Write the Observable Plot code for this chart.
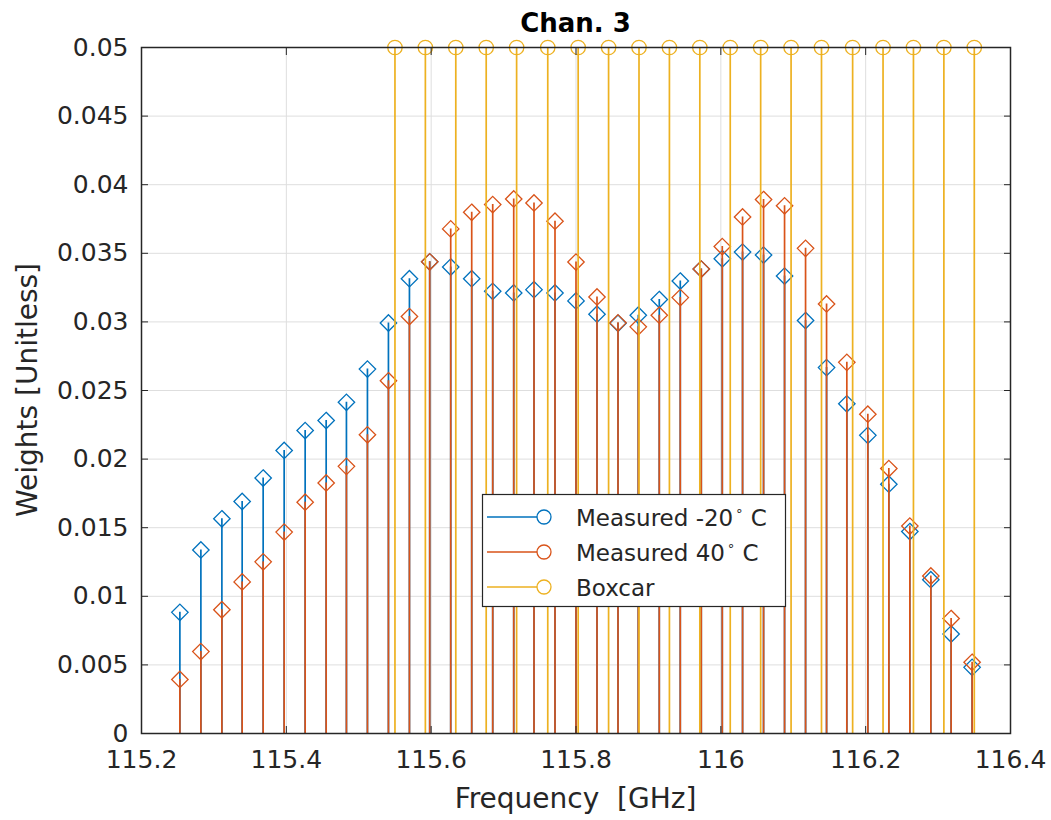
<!DOCTYPE html>
<html>
<head>
<meta charset="utf-8">
<script src="https://cdn.jsdelivr.net/npm/d3@7"></script>
<script src="https://cdn.jsdelivr.net/npm/@observablehq/plot@0.6"></script>
<style>
html, body { margin: 0; padding: 0; background: #fff; }
#chart { position: relative; width: 1051px; height: 820px; }
</style>
</head>
<body>
<div id="chart"></div>
<script>
// ---- data ----
const measFreq = [115.253, 115.282, 115.311, 115.339, 115.368, 115.397, 115.426, 115.455, 115.483, 115.512,
                  115.541, 115.570, 115.598, 115.627, 115.656, 115.685, 115.714, 115.742, 115.771, 115.800,
                  115.829, 115.858, 115.886, 115.915, 115.944, 115.973, 116.002, 116.030, 116.059, 116.088,
                  116.117, 116.146, 116.174, 116.203, 116.232, 116.261, 116.290, 116.318, 116.347];
const weightsMinus20 = [0.00883, 0.01338, 0.01565, 0.01691, 0.01862, 0.02063, 0.02208, 0.02281, 0.02414, 0.02656,
                        0.02992, 0.03315, 0.03438, 0.03400, 0.03315, 0.03223, 0.03211, 0.03235, 0.03211, 0.03153,
                        0.03056, 0.02990, 0.03049, 0.03163, 0.03298, 0.03385, 0.03460, 0.03509, 0.03487, 0.03334,
                        0.03010, 0.02667, 0.02403, 0.02173, 0.01817, 0.01472, 0.01121, 0.00725, 0.00482];
const weightsPlus40 = [0.00394, 0.00597, 0.00902, 0.01105, 0.01251, 0.01468, 0.01686, 0.01826, 0.01947, 0.02177,
                       0.02571, 0.03039, 0.03438, 0.03678, 0.03799, 0.03855, 0.03896, 0.03867, 0.03734, 0.03436,
                       0.03182, 0.02993, 0.02964, 0.03049, 0.03177, 0.03385, 0.03549, 0.03765, 0.03892, 0.03846,
                       0.03536, 0.03131, 0.02705, 0.02327, 0.01931, 0.01512, 0.01148, 0.00838, 0.00519];
const boxFreq = [115.550, 115.592, 115.634, 115.676, 115.718, 115.761, 115.803, 115.845, 115.887, 115.929,
                 115.971, 116.013, 116.055, 116.097, 116.139, 116.182, 116.224, 116.266, 116.308, 116.350];
const boxWeight = [0.05, 0.05, 0.05, 0.05, 0.05, 0.05, 0.05, 0.05, 0.05, 0.05,
                   0.05, 0.05, 0.05, 0.05, 0.05, 0.05, 0.05, 0.05, 0.05, 0.05];
const xTicks = [115.2, 115.4, 115.6, 115.8, 116, 116.2, 116.4];
const yTicks = [0, 0.005, 0.01, 0.015, 0.02, 0.025, 0.03, 0.035, 0.04, 0.045, 0.05];
const seriesLabels = ["Measured -20° C", "Measured 40° C", "Boxcar"];
const seriesColors = ["#0072BD", "#D95319", "#EDB120"];
const titleText = "Chan. 3";
const xLabelText = "Frequency  [GHz]";
const yLabelText = "Weights [Unitless]";

// ---- tables ----
const coldRows = measFreq.map((f, i) => ({f, w: weightsMinus20[i]}));
const warmRows = measFreq.map((f, i) => ({f, w: weightsPlus40[i]}));
const boxRows = boxFreq.map((f, i) => ({f, w: boxWeight[i]}));

const fmt = d => String(+(+d).toFixed(4));
const ink = "#262626";

function stem(rows, color, symbol, r) {
  return [
    Plot.ruleX(rows, {x: "f", y1: 0, y2: "w", stroke: color, strokeWidth: 1.7}),
    Plot.dot(rows, {x: "f", y: "w", symbol, r, stroke: color, strokeWidth: 1.3, fill: "none"})
  ];
}

const plot = Plot.plot({
  width: 1051,
  height: 820,
  marginTop: 47,
  marginRight: 41,
  marginBottom: 87,
  marginLeft: 141,
  style: {fontFamily: "DejaVu Sans", fontSize: "25px", color: ink, background: "#fff"},
  x: {domain: [115.2, 116.4], label: null},
  y: {domain: [0, 0.05], label: null},
  marks: [
    Plot.gridX(xTicks, {stroke: "#dedede", strokeOpacity: 1, strokeWidth: 1}),
    Plot.gridY(yTicks, {stroke: "#dedede", strokeOpacity: 1, strokeWidth: 1}),
    ...stem(coldRows, seriesColors[0], "diamond2", 7.4),
    ...stem(warmRows, seriesColors[1], "diamond2", 7.4),
    ...stem(boxRows, seriesColors[2], "circle", 7.2),
    Plot.axisX(xTicks, {anchor: "bottom", tickSize: 0, tickPadding: 17, tickFormat: fmt, label: null, fill: ink}),
    Plot.axisX(xTicks, {anchor: "bottom", tickSize: -7, tickFormat: () => "", label: null, stroke: ink}),
    Plot.axisX(xTicks, {anchor: "top", tickSize: -7, tickFormat: () => "", label: null, stroke: ink}),
    Plot.axisY(yTicks, {anchor: "left", tickSize: 0, tickPadding: 13, tickFormat: fmt, label: null, fill: ink}),
    Plot.axisY(yTicks, {anchor: "left", tickSize: -7, tickFormat: () => "", label: null, stroke: ink}),
    Plot.axisY(yTicks, {anchor: "right", tickSize: -7, tickFormat: () => "", label: null, stroke: ink}),
    Plot.frame({stroke: ink, strokeWidth: 1.5})
  ]
});

document.getElementById("chart").appendChild(plot);

// ---- title, axis labels, legend ----
const svg = d3.select(plot);
svg.append("text")
  .attr("x", 575.5).attr("y", 32)
  .attr("text-anchor", "middle")
  .attr("font-family", "DejaVu Sans").attr("font-weight", "bold").attr("font-size", 26)
  .attr("fill", "#000")
  .text(titleText);
svg.append("text")
  .attr("x", 575.5).attr("y", 808)
  .attr("text-anchor", "middle")
  .attr("font-family", "DejaVu Sans").attr("font-size", 28).attr("fill", ink)
  .text(xLabelText);
svg.append("text")
  .attr("transform", "translate(37,390) rotate(-90)")
  .attr("text-anchor", "middle")
  .attr("font-family", "DejaVu Sans").attr("font-size", 28).attr("fill", ink)
  .text(yLabelText);

const lg = svg.append("g")
  .attr("font-family", "DejaVu Sans").attr("font-size", 23).attr("fill", ink)
  .attr("text-anchor", "start");
lg.append("rect").attr("x", 482.5).attr("y", 494.5).attr("width", 303).attr("height", 112)
  .attr("fill", "#fff").attr("stroke", ink).attr("stroke-width", 1.2);
seriesLabels.forEach((label, i) => {
  const cy = 517 + i * 35;
  lg.append("line").attr("x1", 487).attr("x2", 544).attr("y1", cy).attr("y2", cy)
    .attr("stroke", seriesColors[i]).attr("stroke-width", 1.7);
  lg.append("circle").attr("cx", 544).attr("cy", cy).attr("r", 7)
    .attr("fill", "#fff").attr("stroke", seriesColors[i]).attr("stroke-width", 1.3);
  const t = lg.append("text").attr("x", 576).attr("y", cy + 9).attr("text-anchor", "start");
  const parts = label.split("°");
  t.append("tspan").text(parts[0]);
  if (parts.length > 1) {
    t.append("tspan").attr("font-size", 13).attr("dy", -11).attr("dx", 2).text("∘");
    t.append("tspan").attr("dy", 11).text(parts[1]);
  }
});
</script>
</body>
</html>
